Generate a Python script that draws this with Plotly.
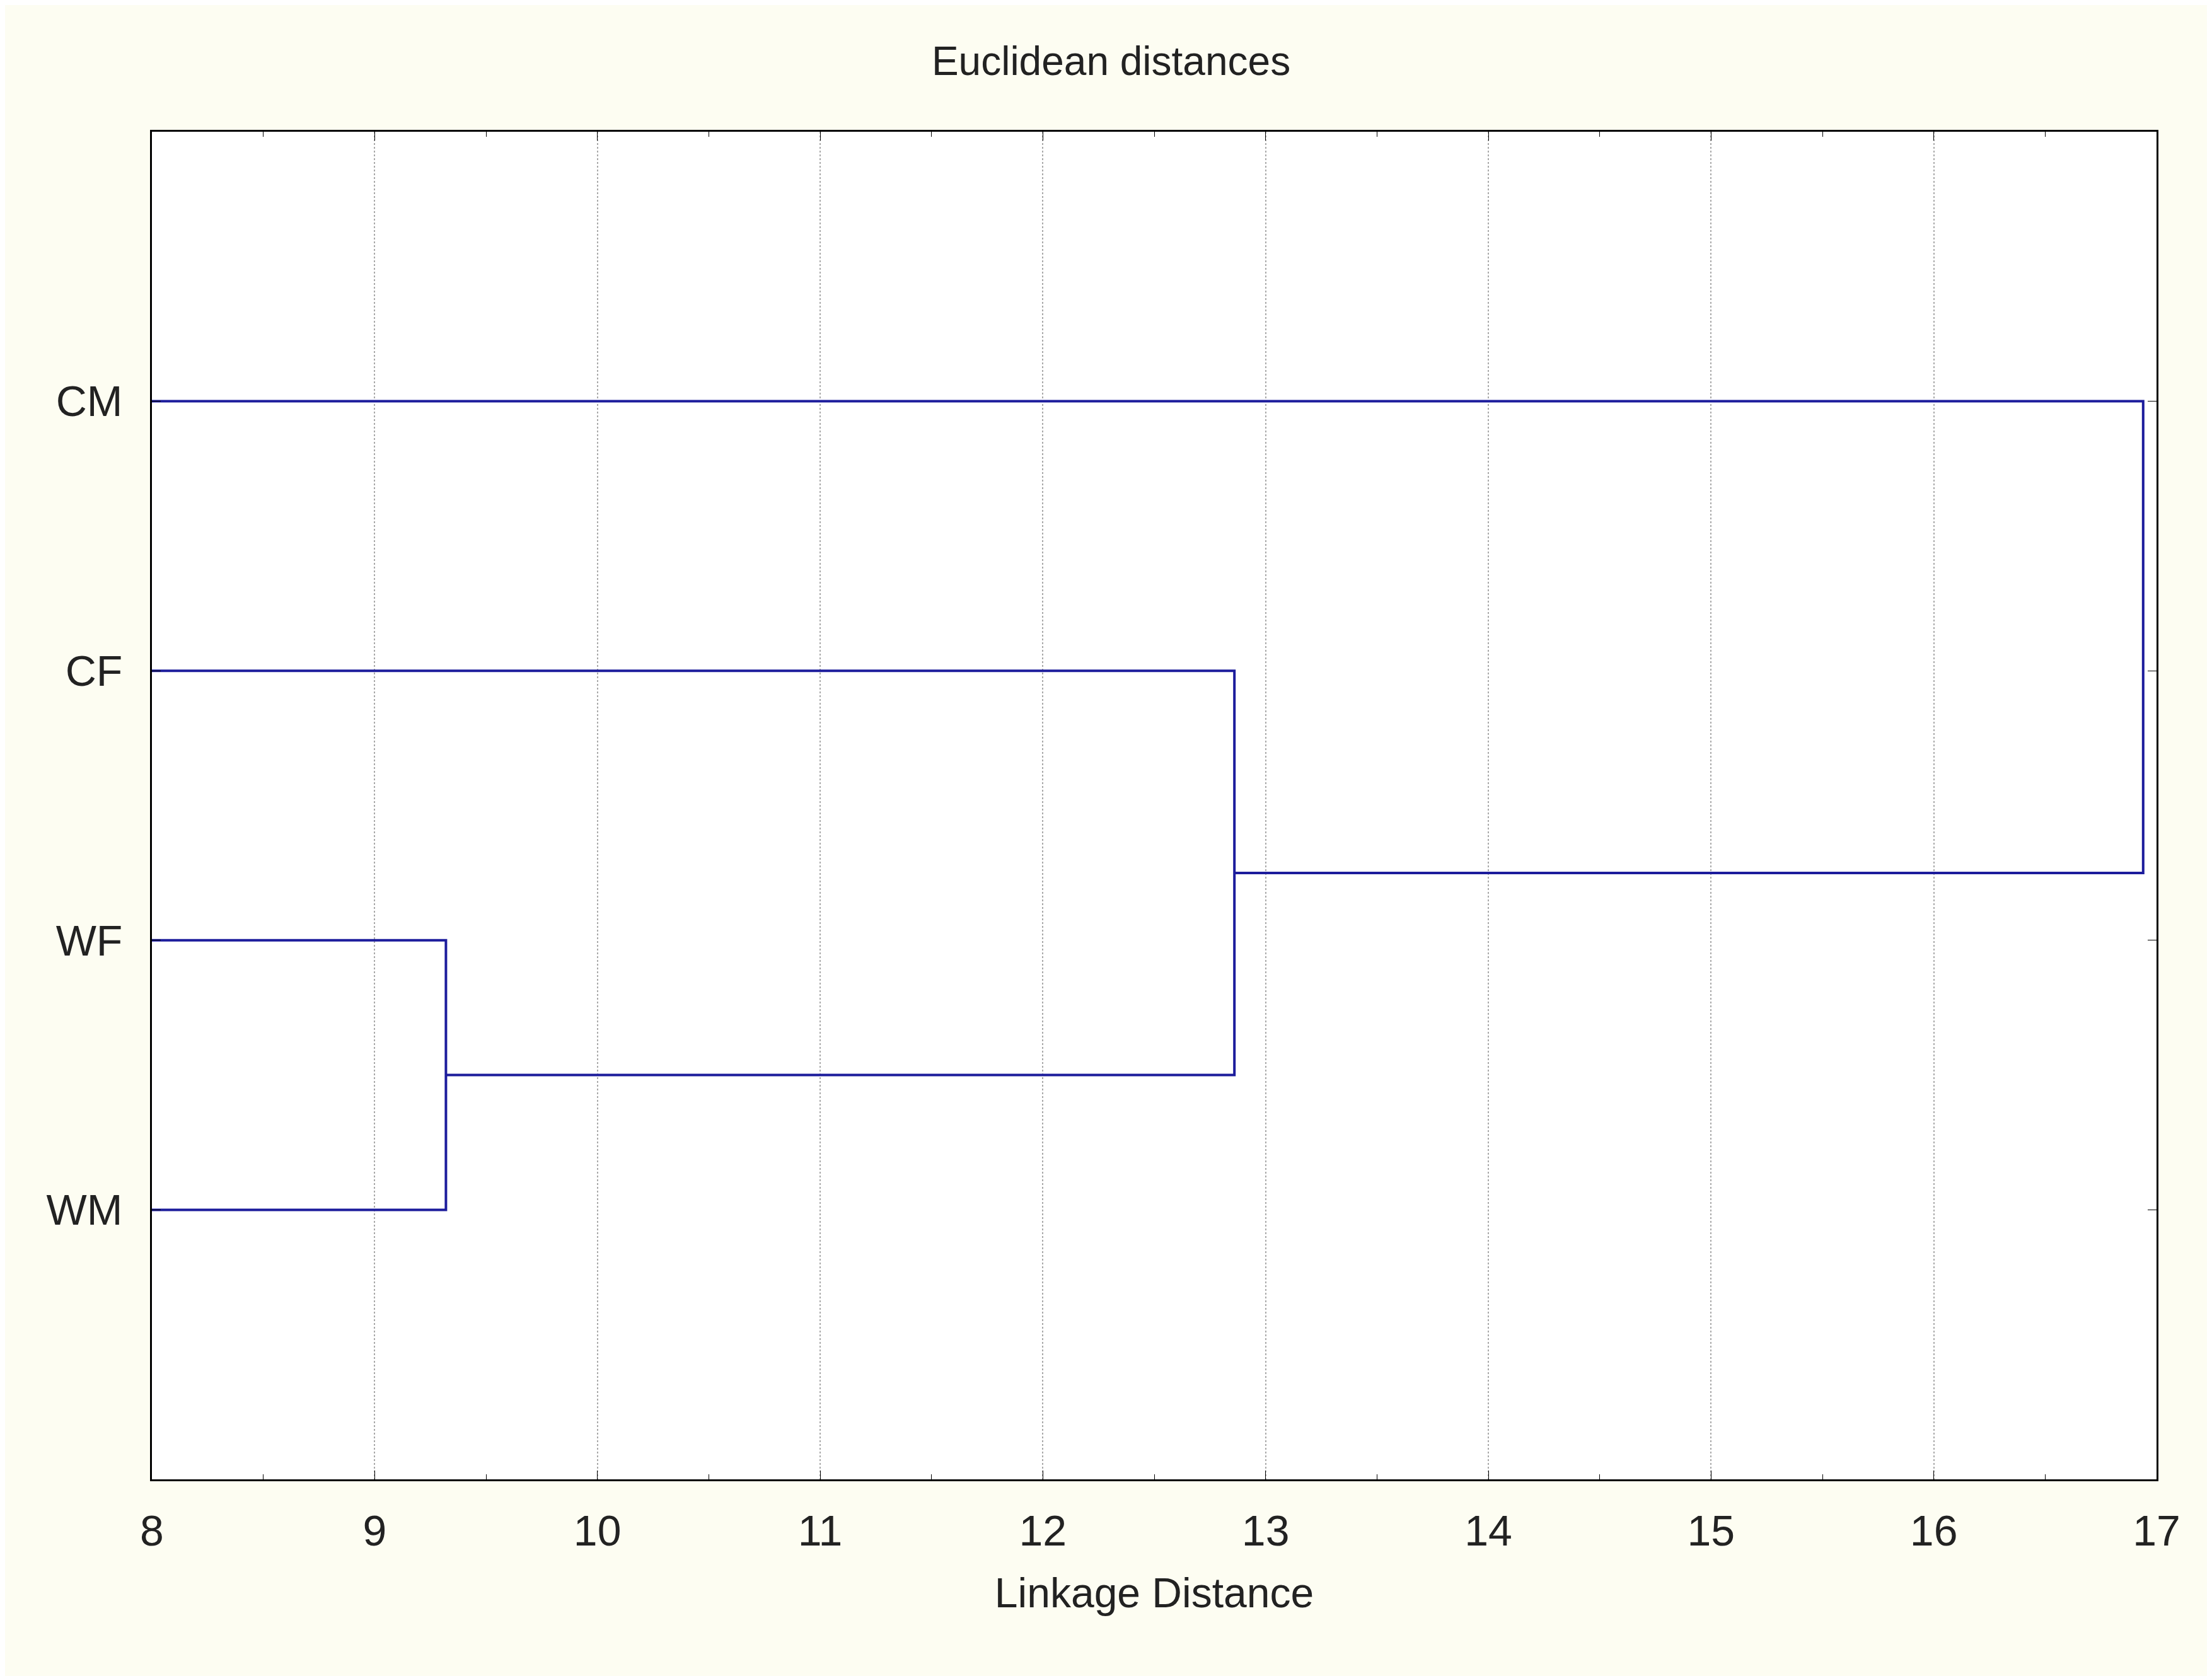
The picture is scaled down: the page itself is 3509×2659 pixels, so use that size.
import plotly.graph_objects as go

leaves = ["CM", "CF", "WF", "WM"]
leaf_pos = [1, 2, 3, 4]
# linkage distances at which clusters are joined
merge_dist = [9.32, 12.86, 16.94]
x_min = 8

line = dict(color="#1c1c9c", width=4)
fig = go.Figure()

def seg(xs, ys):
    fig.add_trace(go.Scatter(x=xs, y=ys, mode="lines", line=line,
                             hoverinfo="skip", showlegend=False))

# WF + WM
y_wf, y_wm = leaf_pos[2], leaf_pos[3]
seg([x_min, merge_dist[0], merge_dist[0], x_min], [y_wf, y_wf, y_wm, y_wm])
c1 = (y_wf + y_wm) / 2
# CF + (WF,WM)
y_cf = leaf_pos[1]
seg([x_min, merge_dist[1], merge_dist[1], merge_dist[0]], [y_cf, y_cf, c1, c1])
c2 = (y_cf + c1) / 2
# CM + rest
y_cm = leaf_pos[0]
seg([x_min, merge_dist[2], merge_dist[2], merge_dist[1]], [y_cm, y_cm, c2, c2])

font = "Liberation Sans, Arial, sans-serif"
fig.update_layout(
    width=3509, height=2659,
    paper_bgcolor="#fdfdf2", plot_bgcolor="white",
    margin=dict(l=233, r=96, t=201, b=320),
    font=dict(family=font, size=68, color="#222"),
    title=dict(text="Euclidean distances", x=0.5, xanchor="center",
               y=0.975, yanchor="top", font=dict(size=64)),
    xaxis=dict(range=[8, 17], dtick=1, showgrid=True, gridcolor="#aaaaaa",
               griddash="dot", gridwidth=2, zeroline=False,
               showline=True, linecolor="black", linewidth=3, mirror="allticks",
               ticks="inside", ticklen=14, tickcolor="black", ticklabelstandoff=20,
               minor=dict(dtick=0.5, ticks="inside", ticklen=8, tickcolor="black"),
               title=dict(text="Linkage Distance", standoff=40, font=dict(size=66))),
    yaxis=dict(range=[5, 0], tickvals=leaf_pos, ticktext=leaves,
               showgrid=False, zeroline=False,
               showline=True, linecolor="black", linewidth=3, mirror="allticks",
               ticks="inside", ticklen=14, tickcolor="black", ticklabelstandoff=30),
)
fig.write_html("out.html")
